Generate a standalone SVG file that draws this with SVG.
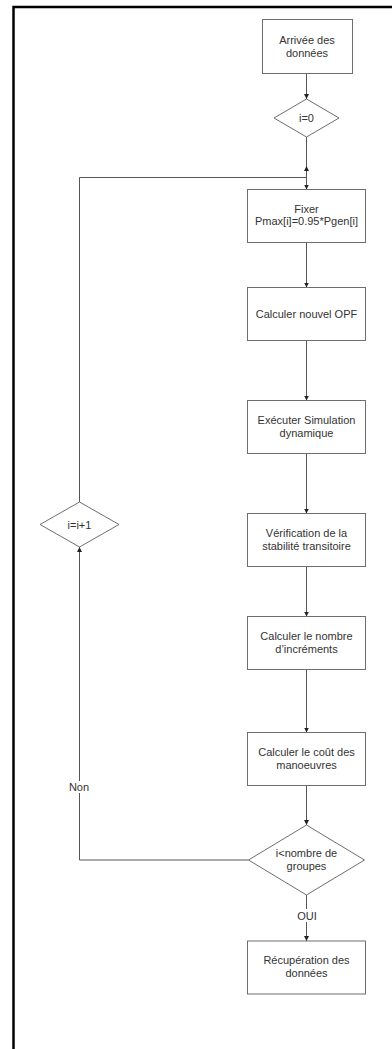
<svg xmlns="http://www.w3.org/2000/svg" width="392" height="1049" viewBox="0 0 392 1049">
<style>
.box{fill:#fff;stroke:#6e6e6e;stroke-width:1}
.dia{fill:#fff;stroke:#6e6e6e;stroke-width:1}
.t{font-family:"Liberation Sans",Arial,sans-serif;font-size:11px;fill:#333;text-anchor:middle}
.c{fill:none;stroke:#555;stroke-width:1}
.frame{stroke:#000;stroke-width:2.5;fill:none}
</style>
<defs>
<marker id="ah" viewBox="0 0 10 10" refX="10" refY="5" markerWidth="5" markerHeight="5" markerUnits="userSpaceOnUse" orient="auto">
<path d="M0,0 L10,5 L0,10 z" fill="#222"/>
</marker>
</defs>
<rect width="392" height="1049" fill="#fff"/>
<g id="frame">
<path class="frame" d="M13.5,1049 V7 H392"/>
</g>
<g id="connectors">
<path class="c" d="M306.5,73.5 V99" marker-end="url(#ah)"/>
<path class="c" d="M306.5,137 V189.5" marker-end="url(#ah)"/>
<path class="c" d="M79.5,502 V177.5 H306.5 V166" marker-end="url(#ah)"/>
<path class="c" d="M306.5,242.5 V287.5" marker-end="url(#ah)"/>
<path class="c" d="M306.5,340.5 V400.5" marker-end="url(#ah)"/>
<path class="c" d="M306.5,453.5 V513.5" marker-end="url(#ah)"/>
<path class="c" d="M306.5,566.5 V616.5" marker-end="url(#ah)"/>
<path class="c" d="M306.5,669.5 V732.5" marker-end="url(#ah)"/>
<path class="c" d="M306.5,785.5 V825" marker-end="url(#ah)"/>
<path class="c" d="M248.5,860 H79.5 V547" marker-end="url(#ah)"/>
<path class="c" d="M306.5,895 V941" marker-end="url(#ah)"/>
<rect x="66" y="781" width="27" height="12" fill="#fff"/>
<text class="t" x="79" y="791">Non</text>
<rect x="295" y="909" width="24" height="13" fill="#fff"/>
<text class="t" x="307" y="920">OUI</text>
</g>
<g id="n1">
<rect class="box" x="262.5" y="19.5" width="90" height="54"/>
<text class="t" x="307" y="44">Arrivée des</text>
<text class="t" x="307" y="57">données</text>
</g>
<g id="n2">
<polygon class="dia" points="306.5,99 339,118 306.5,137 274,118"/>
<text class="t" x="306.5" y="122">i=0</text>
</g>
<g id="n3">
<rect class="box" x="247.5" y="189.5" width="118" height="53"/>
<text class="t" x="306.5" y="212.5">Fixer</text>
<text class="t" x="306.5" y="225">Pmax[i]=0.95*Pgen[i]</text>
</g>
<g id="n4">
<rect class="box" x="247.5" y="287.5" width="118" height="53"/>
<text class="t" x="306.5" y="317.5">Calculer nouvel OPF</text>
</g>
<g id="n5">
<rect class="box" x="247.5" y="400.5" width="118" height="53"/>
<text class="t" x="306.5" y="424">Exécuter Simulation</text>
<text class="t" x="306.5" y="437">dynamique</text>
</g>
<g id="n6">
<rect class="box" x="247.5" y="513.5" width="118" height="53"/>
<text class="t" x="306.5" y="537">Vérification de la</text>
<text class="t" x="306.5" y="550">stabilité transitoire</text>
</g>
<g id="n7">
<rect class="box" x="247.5" y="616.5" width="118" height="53"/>
<text class="t" x="306.5" y="640">Calculer le nombre</text>
<text class="t" x="306.5" y="653">d’incréments</text>
</g>
<g id="n8">
<rect class="box" x="247.5" y="732.5" width="118" height="53"/>
<text class="t" x="306.5" y="756">Calculer le coût des</text>
<text class="t" x="306.5" y="769">manoeuvres</text>
</g>
<g id="n9">
<polygon class="dia" points="306.5,825 364.5,860 306.5,895 248.5,860"/>
<text class="t" x="306.5" y="857">i&lt;nombre de</text>
<text class="t" x="306.5" y="870">groupes</text>
</g>
<g id="n10">
<rect class="box" x="247.5" y="941" width="118" height="53"/>
<text class="t" x="306.5" y="964">Récupération des</text>
<text class="t" x="306.5" y="977">données</text>
</g>
<g id="n11">
<polygon class="dia" points="79.5,502 119,524.5 79.5,547 40,524.5"/>
<text class="t" x="79.5" y="528.5">i=i+1</text>
</g>
</svg>
